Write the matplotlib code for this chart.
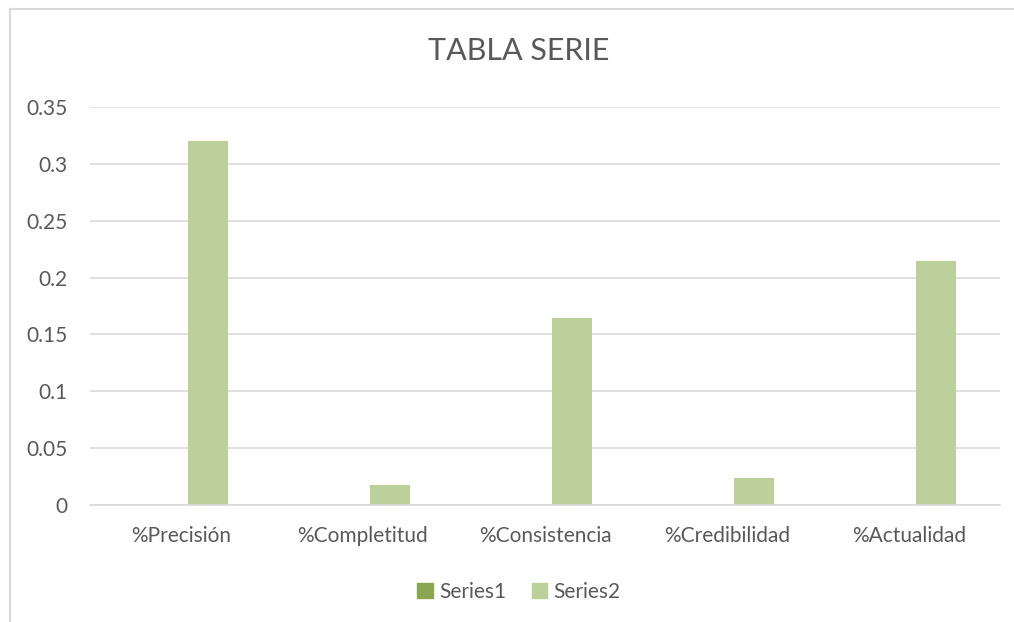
import matplotlib
matplotlib.use("Agg")
import matplotlib.pyplot as plt
import numpy as np
from matplotlib.lines import Line2D
from matplotlib.patches import Patch

categories = ["%Precisión", "%Completitud", "%Consistencia", "%Credibilidad", "%Actualidad"]
series1 = [0, 0, 0, 0, 0]
series2 = [0.32, 0.0175, 0.1645, 0.024, 0.2147]
yticks = [0, 0.05, 0.1, 0.15, 0.2, 0.25, 0.3, 0.35]
ytick_labels = ["0", "0.05", "0.1", "0.15", "0.2", "0.25", "0.3", "0.35"]

plt.rcParams['font.family'] = ['Lato', 'DejaVu Sans']
W, H = 1014, 622
fig = plt.figure(figsize=(W/100, H/100), dpi=100)
fig.patch.set_facecolor('white')

ax = fig.add_axes([90/W, 1-505/H, 910/W, 398/H])
x = np.arange(len(categories))
bw = 0.22
off = 0.148
c1 = '#8aa652'
c2 = '#bbd09a'
ax.bar(x - off, series1, bw, color=c1, label='Series1')
ax.bar(x + off, series2, bw, color=c2, label='Series2')
ax.set_xlim(-0.5, len(categories)-0.5)
ax.set_ylim(0, 0.35)
ax.set_yticks(yticks)
ax.set_yticklabels(ytick_labels)
ax.set_xticks(x)
ax.set_xticklabels(categories)
ax.tick_params(axis='both', length=0, colors='#595959', labelsize=15)
ax.tick_params(axis='y', pad=16)
ax.tick_params(axis='x', pad=15)
ax.grid(axis='y', color='#d9d9d9', linewidth=1.2)
ax.set_axisbelow(True)
for s in ['top', 'right', 'left']:
    ax.spines[s].set_visible(False)
ax.spines['bottom'].set_color('#d9d9d9')
ax.spines['bottom'].set_linewidth(1.2)

fig.text(519/W, 1-51/H, "TABLA SERIE", ha='center', va='center', fontsize=22, color='#595959')

handles = [Patch(color=c1, label='Series1'), Patch(color=c2, label='Series2')]
fig.legend(handles=handles, loc='center', bbox_to_anchor=(519/W, 1-592/H), ncol=2, frameon=False,
           fontsize=15, labelcolor='#595959', handlelength=0.75, handleheight=0.75, handletextpad=0.3, columnspacing=1.2)

fig.add_artist(Line2D([9.5/W, 9.5/W], [0, 1-8.5/H], color='#d9d9d9', linewidth=1.5, transform=fig.transFigure))
fig.add_artist(Line2D([9.5/W, 1], [1-8.5/H, 1-8.5/H], color='#d9d9d9', linewidth=1.5, transform=fig.transFigure))

fig.savefig('out.png', dpi=100, facecolor='white')
